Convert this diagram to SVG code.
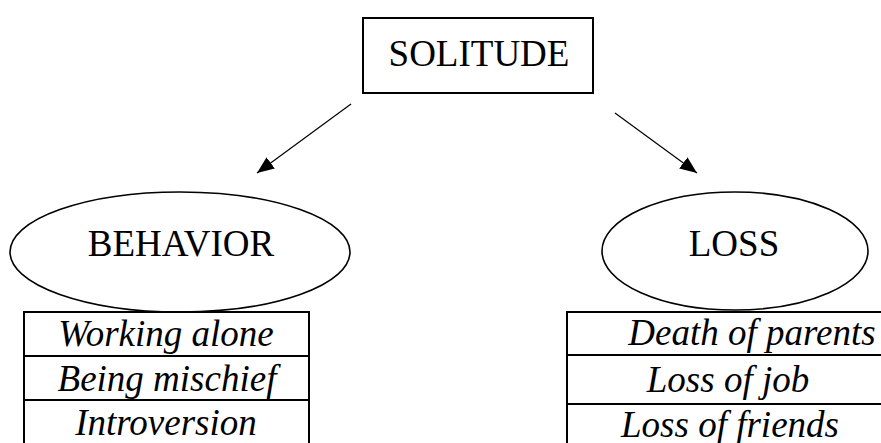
<svg xmlns="http://www.w3.org/2000/svg" width="881" height="443" viewBox="0 0 881 443">
<defs>
<style>
.t{font-family:"Liberation Serif","Times New Roman",serif;font-size:37px;fill:#000;text-anchor:middle}
.i{font-style:italic}
.s{fill:#fff;stroke:#000;stroke-width:2}
.e{fill:#fff;stroke:#000;stroke-width:1.6}
.c{stroke:#000;stroke-width:1.2;fill:none}
.l{stroke:#000;stroke-width:2;fill:none}
</style>
<marker id="ah" viewBox="0 0 17 14" refX="17" refY="7" markerWidth="17" markerHeight="14" markerUnits="userSpaceOnUse" orient="auto">
<path d="M0,0 L17,7 L0,14 Z" fill="#000"/>
</marker>
</defs>
<rect width="881" height="443" fill="#fff"/>
<g id="solitude">
<rect class="s" x="363" y="18" width="230" height="75"/>
<text class="t" x="479" y="66">SOLITUDE</text>
</g>
<g id="connectors">
<line class="c" x1="351" y1="104" x2="257" y2="173" marker-end="url(#ah)"/>
<line class="c" x1="615" y1="113" x2="697" y2="173" marker-end="url(#ah)"/>
</g>
<g id="behavior">
<ellipse class="e" cx="180" cy="252" rx="170" ry="60"/>
<text class="t" x="181" y="256">BEHAVIOR</text>
</g>
<g id="loss">
<ellipse class="e" cx="735" cy="251" rx="133" ry="59"/>
<text class="t" x="734" y="256">LOSS</text>
</g>
<g id="behavior-list">
<path class="l" d="M24,445 V312 H309 V445 M24,356 H309 M24,400 H309"/>
<text class="t i" x="166" y="346">Working alone</text>
<text class="t i" x="167" y="391">Being mischief</text>
<text class="t i" x="166" y="435">Introversion</text>
</g>
<g id="loss-list">
<path class="l" d="M567,445 V312 H885 M567,355 H885 M567,404 H885"/>
<text class="t i" x="752" y="345">Death of parents</text>
<text class="t i" x="728" y="392">Loss of job</text>
<text class="t i" x="730" y="437">Loss of friends</text>
</g>
</svg>
